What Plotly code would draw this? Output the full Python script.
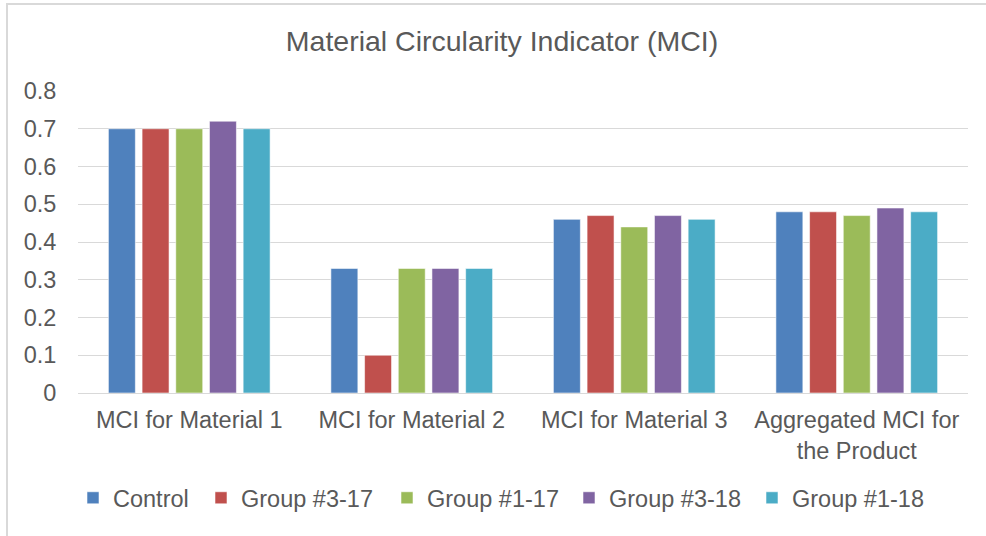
import plotly.graph_objects as go

categories = [
    "MCI for Material 1",
    "MCI for Material 2",
    "MCI for Material 3",
    "Aggregated MCI for<br>the Product",
]
series_names = ["Control", "Group #3-17", "Group #1-17", "Group #3-18", "Group #1-18"]
control = [0.70, 0.33, 0.46, 0.48]
group_3_17 = [0.70, 0.10, 0.47, 0.48]
group_1_17 = [0.70, 0.33, 0.44, 0.47]
group_3_18 = [0.72, 0.33, 0.47, 0.49]
group_1_18 = [0.70, 0.33, 0.46, 0.48]
y_ticks = [0, 0.1, 0.2, 0.3, 0.4, 0.5, 0.6, 0.7, 0.8]
y_tick_labels = ["0", "0.1", "0.2", "0.3", "0.4", "0.5", "0.6", "0.7", "0.8"]

series_values = [control, group_3_17, group_1_17, group_3_18, group_1_18]
colors = ["#4F81BD", "#C0504D", "#9BBB59", "#8064A2", "#4BACC6"]

FONT = "Liberation Sans, Arial, sans-serif"
TEXT = "#595959"
GRID = "#D9D9D9"

# figure geometry (pixels)
W, H = 986, 536
ML, MR, MT, MB = 78, 18, 91, 143
PW, PH = W - ML - MR, H - MT - MB


def px_x(p):
    return (p - ML) / PW


def px_y(p):
    return (H - MB - p) / PH


# left edge of each legend entry, in pixels
legend_left = [73, 201, 387, 569, 752]
legend_center_y = 498

fig = go.Figure()
for i, (name, vals, col) in enumerate(zip(series_names, series_values, colors)):
    leg = "legend" if i == 0 else f"legend{i + 1}"
    fig.add_trace(go.Bar(
        x=categories, y=vals, name=name,
        marker=dict(color=col, line=dict(color="rgba(255,255,255,0.55)", width=1)),
        legend=leg,
    ))

layout_legends = {}
for i in range(len(series_names)):
    key = "legend" if i == 0 else f"legend{i + 1}"
    layout_legends[key] = dict(
        x=px_x(legend_left[i]), xanchor="left",
        y=px_y(legend_center_y), yanchor="middle",
        orientation="h", bgcolor="rgba(0,0,0,0)", borderwidth=0,
        font=dict(family=FONT, size=23.5, color=TEXT),
        itemclick=False, itemdoubleclick=False,
    )

fig.update_layout(
    width=W, height=H,
    margin=dict(l=ML, r=MR, t=MT, b=MB, pad=0),
    paper_bgcolor="white", plot_bgcolor="white",
    barmode="group", bargap=0.243, bargroupgap=0.2,
    title=dict(
        text="Material Circularity Indicator (MCI)",
        x=502 / W, xref="container", xanchor="center",
        y=1 - 41 / H, yref="container", yanchor="middle",
        font=dict(family=FONT, size=28.5, color=TEXT),
    ),
    font=dict(family=FONT, color=TEXT),
    showlegend=True,
    **layout_legends,
    shapes=[dict(
        type="rect", xref="paper", yref="paper",
        x0=px_x(7), x1=px_x(1000), y0=px_y(545), y1=px_y(4),
        line=dict(color=GRID, width=2), fillcolor="rgba(0,0,0,0)", layer="below",
    )],
)

fig.update_xaxes(
    showgrid=False, showline=True, linecolor=GRID, linewidth=1,
    ticks="outside", ticklen=6, tickcolor="rgba(0,0,0,0)",
    tickfont=dict(family=FONT, size=23.5, color=TEXT),
    fixedrange=True,
)
fig.update_yaxes(
    range=[0, 0.8], tickvals=y_ticks, ticktext=y_tick_labels,
    showgrid=True, gridcolor=GRID, gridwidth=1,
    showline=False, zeroline=False,
    ticks="outside", ticklen=16, tickcolor="rgba(0,0,0,0)",
    tickfont=dict(family=FONT, size=23.5, color=TEXT),
    fixedrange=True,
)

fig.write_html("out.html")
